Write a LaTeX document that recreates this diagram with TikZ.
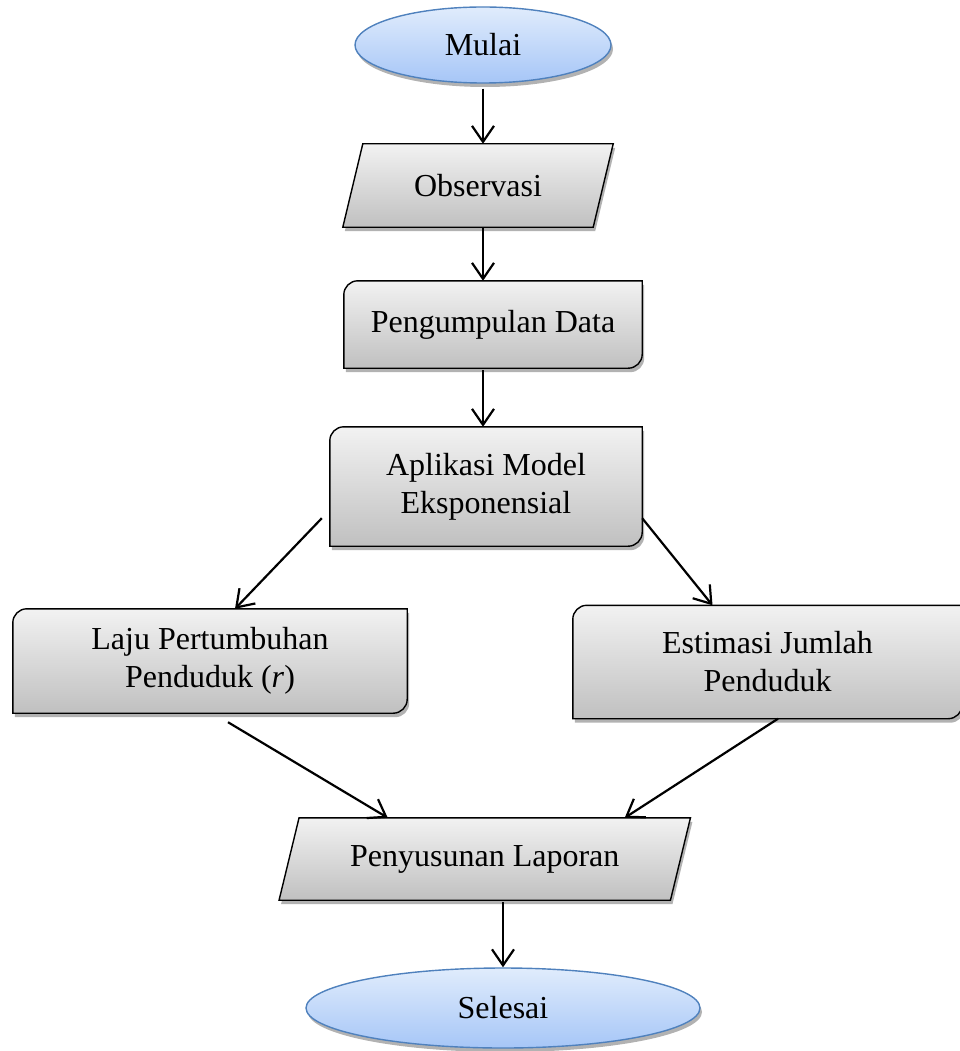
\documentclass[tikz,border=0pt]{standalone}
\usepackage{fontspec}
\setmainfont{Liberation Serif}
\usetikzlibrary{shapes.geometric,arrows.meta,shadows,backgrounds,calc}

\definecolor{boxtop}{RGB}{242,242,242}
\definecolor{boxbot}{RGB}{192,192,192}
\definecolor{elltop}{RGB}{224,236,252}
\definecolor{ellbot}{RGB}{166,198,247}
\definecolor{ellline}{RGB}{79,129,189}

\tikzset{
  txt/.style={inner sep=0pt, align=center, font=\fontsize{32}{38}\selectfont},
  boxfill/.style={draw=black, line width=1.4pt, top color=boxtop, bottom color=boxbot,
    drop shadow={shadow xshift=2pt, shadow yshift=-4pt, opacity=.3, fill=black}},
  terminal/.style={txt, ellipse, draw=ellline, line width=1.4pt, top color=elltop, bottom color=ellbot,
    drop shadow={shadow xshift=2pt, shadow yshift=-4pt, opacity=.3, fill=black}},
  flow/.style={line width=2.2pt, -{Straight Barb[length=16pt,width=22pt]}}
}

\begin{document}
\begin{tikzpicture}[x=1pt,y=1pt]
  \useasboundingbox (0,0) rectangle (960,-1051);

  \node[terminal, minimum width=256pt, minimum height=76pt] (mulai) at (483,-45) {Mulai};
  \node[txt, minimum width=250pt, minimum height=83pt] (obs) at (478,-185.5) {Observasi};
  \node[txt, minimum width=298pt, minimum height=87pt] (pd) at (493,-324.5) {Pengumpulan Data};
  \node[txt, minimum width=312pt, minimum height=119pt] (app) at (486,-486.5) {Aplikasi Model\\Eksponensial};
  \node[txt, minimum width=394pt, minimum height=104pt] (laju) at (210,-661) {Laju Pertumbuhan\\Penduduk (\textit{r})};
  \node[txt, minimum width=389pt, minimum height=113pt] (est) at (767.5,-662) {Estimasi Jumlah\\Penduduk};
  \node[txt, minimum width=391pt, minimum height=82pt] (pen) at (484.75,-859) {Penyusunan Laporan};
  \node[terminal, minimum width=394pt, minimum height=80pt] (sel) at (503,-1008) {Selesai};

  \begin{scope}[on background layer]
    % data / io
    \foreach \n in {obs,pen}
      \draw[boxfill] ([xshift=10pt]\n.north west) -- ([xshift=10pt]\n.north east)
        -- ([xshift=-10pt]\n.south east) -- ([xshift=-10pt]\n.south west) -- cycle;
    % proses
    \foreach \n in {pd,app,laju,est}
      \draw[boxfill] (\n.south west) -- ([yshift=-14pt]\n.north west)
        arc[start angle=180, end angle=90, radius=14pt] -- (\n.north east)
        -- ([yshift=14pt]\n.south east) arc[start angle=0, end angle=-90, radius=14pt] -- cycle;
  \end{scope}

  \draw[flow] ([yshift=-5pt]mulai.south) -- (mulai.south |- obs.north);
  \draw[flow] ([yshift=-1pt]mulai.south |- obs.south) -- (mulai.south |- pd.north);
  \draw[flow] ([yshift=-2pt]mulai.south |- pd.south) -- (mulai.south |- app.north);
  \draw[flow] ([shift={(-8pt,28pt)}]app.south west) -- ([xshift=25pt]laju.north);
  \draw[flow] ([yshift=28pt]app.south east) -- ([xshift=-55pt]est.north);
  \draw[flow] ([shift={(18pt,-9pt)}]laju.south) -- ([xshift=-97pt]pen.north);
  \draw[flow] ([xshift=10.5pt]est.south) -- ([xshift=140pt]pen.north);
  \draw[flow] ([yshift=-2pt]sel.north |- pen.south) -- (sel.north);
\end{tikzpicture}
\end{document}
